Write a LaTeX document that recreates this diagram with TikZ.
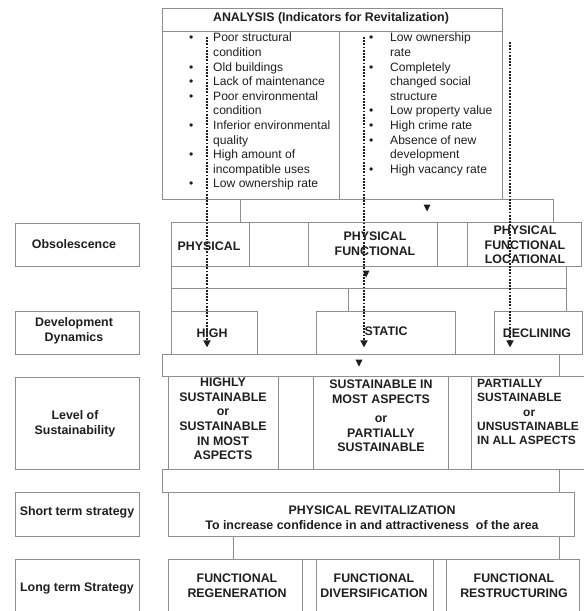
\documentclass[tikz,border=0pt]{standalone}
\usepackage{fontspec}
\setmainfont{Liberation Sans}
\usepackage{tikz}
\usetikzlibrary{positioning}
\usetikzlibrary{fit,arrows.meta}

\definecolor{linegray}{HTML}{8E8E8E}
\definecolor{ink}{HTML}{1E1E1E}
\newcommand{\cellfont}{\fontsize{12.4}{14.6}\selectfont\bfseries}
\newcommand{\listfont}{\fontsize{12.1}{14.6}\selectfont}

\tikzset{
	cell/.style={draw=linegray, line width=0.8pt, inner sep=0pt},
	frame/.style={draw=linegray, line width=0.8pt},
	captext/.style={inner sep=0pt, text=ink, font=\cellfont, align=center},
	listbox/.style={anchor=north west, inner sep=0pt, text=ink, font=\listfont},
	dotarrow/.style={draw=ink, line width=1.9pt, dash pattern=on 1.8pt off 1.4pt, -{Triangle[width=7pt,length=7pt]}},
	downmark/.pic={\fill[ink] (-3.5,-3.5) -- (3.5,-3.5) -- (0,3.5) -- cycle;},
}

\begin{document}
\begin{tikzpicture}[x=1pt, y=-1pt]
	
	% page is 584 x 611, coordinates are pixels of the original (y going down)
	\useasboundingbox (0,0) rectangle (584,611);
	\clip (0,0) rectangle (584,611);
	
	%%%%%%%%%%%%%%%%%%%%%%%%%%%%%%%%%%%%%%%%%%%%%%%%%%%%%%%%%%%%%%
	% ANALYSIS block
	\node[cell, fit={(162,8) (502,31)}] (AnaBox) {};
	\node[cell, fit={(162,31) (339,199)}] (AnaL) {};
	\node[cell, fit={(339,31) (502,199)}] (AnaR) {};
	\node[captext] (Ana) at (331,18) {ANALYSIS (Indicators for Revitalization)};
	
	\node[listbox] (ListL) at (189,31.5) {%
		\begin{tabular}{@{}p{24pt}@{}l@{}}
			\textbullet & Poor structural\\
			            & condition\\
			\textbullet & Old buildings\\
			\textbullet & Lack of maintenance\\
			\textbullet & Poor environmental\\
			            & condition\\
			\textbullet & Inferior environmental\\
			            & quality\\
			\textbullet & High amount of\\
			            & incompatible uses\\
			\textbullet & Low ownership rate
		\end{tabular}};
	\node[listbox] (ListR) at (369,31.5) {%
		\begin{tabular}{@{}p{21pt}@{}l@{}}
			\textbullet & Low ownership\\
			            & rate\\
			\textbullet & Completely\\
			            & changed social\\
			            & structure\\
			\textbullet & Low property value\\
			\textbullet & High crime rate\\
			\textbullet & Absence of new\\
			            & development\\
			\textbullet & High vacancy rate
		\end{tabular}};
	
	\draw[frame] (240,199) rectangle (553,222);
	\pic at (427,208) {downmark};
	
	%%%%%%%%%%%%%%%%%%%%%%%%%%%%%%%%%%%%%%%%%%%%%%%%%%%%%%%%%%%%%%
	% row labels on the left
	\node[cell, fit={(15,223) (139,266)}] (LblObsBox) {};
	\node[cell, fit={(15,311) (139,354)}] (LblDynBox) {};
	\node[cell, fit={(15,377) (139,469)}] (LblLevBox) {};
	\node[cell, fit={(15,492) (139,536)}] (LblShortBox) {};
	\node[cell, fit={(15,559) (139,617)}] (LblLongBox) {};
	\node[captext] (LblObs) at (74,244) {Obsolescence};
	\node[captext] (LblDyn) at (74,331) {Development\\Dynamics};
	\node[captext] (LblLev) at (75,424) {Level of\\Sustainability};
	\node[captext] (LblShort) at (77,512) {Short term strategy};
	\node[captext] (LblLong) at (77,588) {Long term Strategy};
	
	%%%%%%%%%%%%%%%%%%%%%%%%%%%%%%%%%%%%%%%%%%%%%%%%%%%%%%%%%%%%%%
	% Obsolescence
	\node[cell, fit={(171,222) (249,266)}] (Obs1Box) {};
	\node[cell, fit={(249,222) (308,266)}] (ObsGap1) {};
	\node[cell, fit={(308,222) (437,266)}] (Obs2Box) {};
	\node[cell, fit={(437,222) (467,266)}] (ObsGap2) {};
	\node[cell, fit={(467,222) (581,266)}] (Obs3Box) {};
	\node[captext] (Obs1) at (209,246) {PHYSICAL};
	\node[captext] (Obs2) at (375,244) {PHYSICAL\\FUNCTIONAL};
	\node[captext] (Obs3) at (525,245) {PHYSICAL\\FUNCTIONAL\\LOCATIONAL};
	
	\draw[frame] (171,266) rectangle (566,288);
	\draw[frame] (171,288) -- (171,311) (348,288) -- (348,311) (566,288) -- (566,311);
	\pic at (366,274) {downmark};
	
	% Development dynamics (the gaps have no top line)
	\node[cell, fit={(171,311) (257,354)}] (Dyn1Box) {};
	\node[cell, fit={(316,311) (455,354)}] (Dyn2Box) {};
	\node[cell, fit={(494,311) (582,354)}] (Dyn3Box) {};
	\draw[frame] (Dyn1Box.south east) -- (Dyn2Box.south west) (Dyn2Box.south east) -- (Dyn3Box.south west);
	\node[captext] (Dyn1) at (212,333) {HIGH};
	\node[captext] (Dyn2) at (386,331) {STATIC};
	\node[captext] (Dyn3) at (537,333) {DECLINING};
	
	\draw[frame] (162,354) rectangle (559,376);
	\pic at (359,363) {downmark};
	
	% Level of sustainability
	\node[cell, fit={(168,376) (278,469)}] (Lev1Box) {};
	\node[cell, fit={(278,376) (313,469)}] (LevGap1) {};
	\node[cell, fit={(313,376) (448,469)}] (Lev2Box) {};
	\node[cell, fit={(448,376) (471,469)}] (LevGap2) {};
	\node[cell, fit={(471,376) (596,469)}] (Lev3Box) {};
	\node[captext] (Lev1) at (223,419) {HIGHLY\\SUSTAINABLE\\or\\SUSTAINABLE\\IN MOST\\ASPECTS};
	\node[captext] (Lev2) at (381,416) {SUSTAINABLE IN\\MOST ASPECTS\\[5pt]or\\PARTIALLY\\SUSTAINABLE};
	\node[captext, font=\fontsize{12}{14.4}\selectfont\bfseries, align=left, anchor=west] (Lev3) at (477,412) {PARTIALLY\\SUSTAINABLE\\\hspace*{46pt}or\\UNSUSTAINABLE\\IN ALL ASPECTS};
	
	\draw[frame] (162,469) rectangle (559,492);
	
	%%%%%%%%%%%%%%%%%%%%%%%%%%%%%%%%%%%%%%%%%%%%%%%%%%%%%%%%%%%%%%
	% strategies
	\node[cell, fit={(168,492) (574,536)}] (ShortBox) {};
	\node[captext] (Short) at (372,518) {PHYSICAL REVITALIZATION\\To increase confidence in and attractiveness\ \ of the area};
	
	\node[cell, fit={(168,559) (302,613)}] (Long1Box) {};
	\node[cell, fit={(302,559) (316,613)}] (LongGap1) {};
	\node[cell, fit={(316,559) (433,613)}] (Long2Box) {};
	\node[cell, fit={(433,559) (446,613)}] (LongGap2) {};
	\node[cell, fit={(446,559) (579,613)}] (Long3Box) {};
	\node[captext] (Long1) at (237,586) {FUNCTIONAL\\REGENERATION};
	\node[captext] (Long2) at (374,586) {FUNCTIONAL\\DIVERSIFICATION};
	\node[captext] (Long3) at (514,586) {FUNCTIONAL\\RESTRUCTURING};
	
	\draw[frame] ([xshift=66pt]ShortBox.south west) -- ([xshift=66pt]ShortBox.south west |- Long1Box.north);
	\draw[frame] ([xshift=-15pt]ShortBox.south east) -- ([xshift=-15pt]ShortBox.south east |- Long3Box.north);
	
	%%%%%%%%%%%%%%%%%%%%%%%%%%%%%%%%%%%%%%%%%%%%%%%%%%%%%%%%%%%%%%
	% dotted indicator arrows, drawn last so they sit on top of the text
	\coordinate (DotA) at (207,37);
	\coordinate (DotB) at (364,37);
	\coordinate (DotC) at (510,42);
	
	\draw[dotarrow] (DotA) -- ([yshift=7pt]DotA |- Dyn1Box.south);
	\draw[dotarrow] (DotB) -- ([yshift=7pt]DotB |- Dyn2Box.south);
	\draw[dotarrow] (DotC) -- ([yshift=7pt]DotC |- Dyn3Box.south);
	
\end{tikzpicture}
\end{document}
